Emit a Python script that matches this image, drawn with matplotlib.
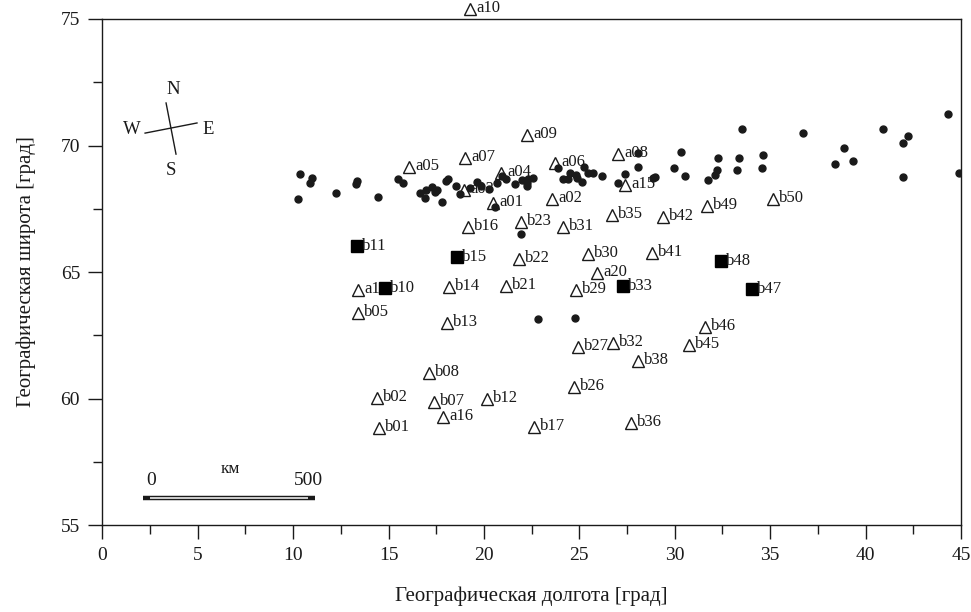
import matplotlib.pyplot as plt
from matplotlib.ticker import MultipleLocator

plt.rcParams['font.family'] = ['Liberation Serif', 'DejaVu Serif']

# станции (треугольники)
tri_names = ['a10', 'a05', 'a07', 'a09', 'a04', 'a03', 'a01', 'a06', 'a02', 'a08', 'a15',
             'b16', 'b23', 'b31', 'b35', 'b42', 'b49', 'b50', 'b22', 'b30', 'b41', 'a20',
             'a11', 'b05', 'b14', 'b21', 'b29', 'b13', 'b46', 'b45', 'b27', 'b32', 'b38',
             'b08', 'b26', 'b02', 'b07', 'b12', 'a16', 'b01', 'b17', 'b36']
tri_lon = [19.26, 16.07, 19.0, 22.24, 20.89, 18.95, 20.46, 23.71, 23.56, 27.04, 27.4,
           19.16, 21.94, 24.14, 26.7, 29.37, 31.67, 35.13, 21.84, 25.45, 28.8, 25.92,
           13.4, 13.4, 18.16, 21.15, 24.82, 18.06, 31.57, 30.73, 24.92, 26.75, 28.06,
           17.11, 24.71, 14.4, 17.38, 20.15, 17.85, 14.5, 22.61, 27.69]
tri_lat = [75.4, 69.15, 69.51, 70.42, 68.91, 68.24, 67.73, 69.31, 67.89, 69.66, 68.44,
           66.78, 66.98, 66.78, 67.25, 67.17, 67.61, 67.89, 65.51, 65.71, 65.75, 64.96,
           64.29, 63.38, 64.41, 64.45, 64.29, 62.98, 62.83, 62.11, 62.04, 62.19, 61.48,
           61.01, 60.45, 60.02, 59.86, 59.98, 59.27, 58.83, 58.87, 59.03]

# станции (квадраты)
sq_names = ['b11', 'b15', 'b10', 'b33', 'b48', 'b47']
sq_lon = [13.34, 18.58, 14.8, 27.28, 32.41, 34.03]
sq_lat = [66.03, 65.59, 64.37, 64.45, 65.43, 64.33]

# точки
dot_lon = [10.36, 10.24, 11.0, 10.88, 12.24, 13.36, 13.30, 14.43, 15.51, 15.77,
           16.64, 16.96, 17.26, 16.90, 17.43, 17.53, 17.82, 18.00, 18.11, 18.56,
           18.74, 19.26, 19.61, 19.87, 20.26, 20.66, 20.97, 21.18, 21.62, 21.97,
           22.23, 22.32, 22.58, 22.23, 20.57, 21.92, 23.89, 24.15, 24.41, 24.50,
           24.81, 24.87, 25.15, 25.23, 25.46, 25.72, 26.18, 27.38, 27.04, 28.09,
           28.06, 28.85, 28.95, 29.95, 30.31, 30.52, 31.73, 32.09, 32.2, 32.25,
           33.25, 33.35, 33.51, 34.56, 34.61, 36.7, 38.38, 38.85, 39.32, 40.9,
           41.95, 42.21, 41.95, 44.3, 44.88, 22.82, 24.76]
dot_lat = [68.86, 67.89, 68.70, 68.51, 68.13, 68.58, 68.47, 67.95, 68.66, 68.53,
           68.13, 68.24, 68.37, 67.91, 68.16, 68.24, 67.77, 68.58, 68.68, 68.40,
           68.08, 68.32, 68.55, 68.40, 68.28, 68.53, 68.79, 68.66, 68.48, 68.64,
           68.51, 68.66, 68.70, 68.40, 67.56, 66.50, 69.10, 68.66, 68.66, 68.92,
           68.83, 68.72, 68.56, 69.14, 68.90, 68.90, 68.79, 68.89, 68.53, 69.17,
           69.70, 68.72, 68.75, 69.11, 69.74, 68.79, 68.64, 68.83, 69.03, 69.51,
           69.03, 69.51, 70.65, 69.11, 69.62, 70.49, 69.27, 69.90, 69.39, 70.65,
           70.10, 70.38, 68.75, 71.25, 68.91, 63.14, 63.18]

ink = '#1a1a1a'

fig = plt.figure(figsize=(9.71, 6.12), dpi=100)
ax = fig.add_axes([0.1054, 0.142, 0.8843, 0.827])

ax.plot(dot_lon, dot_lat, 'o', color=ink, markersize=5, zorder=3)
ax.plot(tri_lon, tri_lat, '^', markerfacecolor='none', markeredgecolor=ink,
        markersize=8.5, markeredgewidth=1.0, clip_on=False, zorder=2)
for name, x, y in zip(tri_names, tri_lon, tri_lat):
    ax.annotate(name, (x, y), xytext=(4.5, 0.5), textcoords='offset points',
                ha='left', va='center', fontsize=12, color=ink,
                annotation_clip=False, zorder=2)
ax.plot(sq_lon, sq_lat, 's', color='black', markersize=8.5, zorder=4)
for name, x, y in zip(sq_names, sq_lon, sq_lat):
    ax.annotate(name, (x, y), xytext=(4, 0), textcoords='offset points',
                ha='left', va='center', fontsize=12, color=ink, zorder=4)

# компас
ax.plot([3.34, 3.86], [71.68, 69.66], color=ink, lw=1)
ax.plot([2.24, 4.96], [70.49, 70.89], color=ink, lw=1)
ax.text(3.71, 72.23, 'N', ha='center', va='center', fontsize=13.5, color=ink)
ax.text(1.55, 70.65, 'W', ha='center', va='center', fontsize=13.5, color=ink)
ax.text(5.54, 70.65, 'E', ha='center', va='center', fontsize=13.5, color=ink)
ax.text(3.6, 69.03, 'S', ha='center', va='center', fontsize=13.5, color=ink)

# масштаб
ax.plot([2.12, 11.14], [56.07, 56.07], color=ink, lw=3.2, solid_capstyle='butt')
ax.plot([2.5, 10.8], [56.07, 56.07], color='white', lw=1.1, solid_capstyle='butt')
ax.text(2.55, 56.78, '0', ha='center', va='center', fontsize=14, color=ink)
ax.text(10.78, 56.78, '500', ha='center', va='center', fontsize=14, color=ink)
ax.text(6.7, 57.2, 'км', ha='center', va='center', fontsize=12.5, color=ink)

ax.set_xlim(0, 45)
ax.set_ylim(55, 75)
ax.xaxis.set_major_locator(MultipleLocator(5))
ax.xaxis.set_minor_locator(MultipleLocator(2.5))
ax.yaxis.set_major_locator(MultipleLocator(5))
ax.yaxis.set_minor_locator(MultipleLocator(2.5))
ax.tick_params(which='major', direction='out', length=10, width=1, labelsize=14,
               colors=ink, pad=6)
ax.tick_params(which='minor', direction='out', length=6.5, width=1, colors=ink)
for s in ax.spines.values():
    s.set_color(ink)
    s.set_linewidth(1)

ax.set_xlabel('Географическая долгота [град]', fontsize=15, color=ink, labelpad=16)
ax.set_ylabel('Географическая широта [град]', fontsize=15, color=ink, labelpad=18)

fig.savefig('out.png', dpi=100)
